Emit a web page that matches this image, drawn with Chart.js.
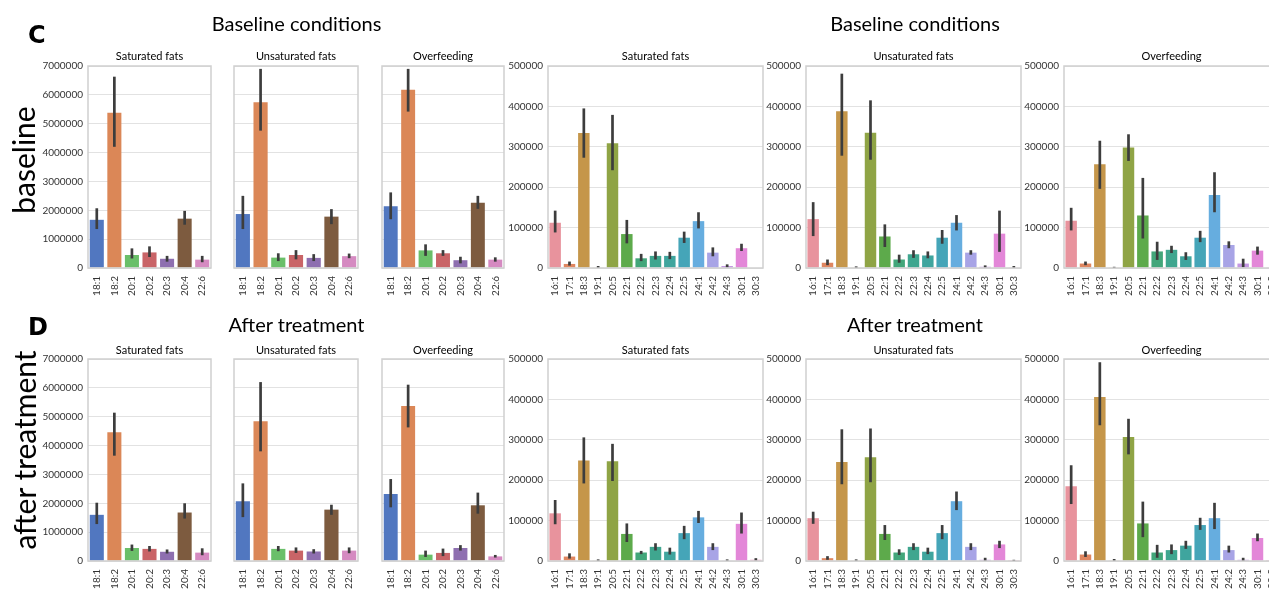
<!DOCTYPE html>
<html>
<head>
<meta charset="utf-8">
<script src="https://cdn.jsdelivr.net/npm/chart.js@4.4.1/dist/chart.umd.min.js"></script>
<style>
  html, body { margin: 0; padding: 0; background: #fff; overflow: hidden; }
  #fig { position: relative; width: 1280px; height: 590px; overflow: hidden; font-family: Lato, sans-serif; }
  .txt { position: absolute; white-space: nowrap; line-height: 1; color: #000; }
  canvas { position: absolute; }
</style>
</head>
<body>
<div id="fig"></div>
<script>
// ---- categories ----
const majorLabels = ['18:1', '18:2', '20:1', '20:2', '20:3', '20:4', '22:6'];
const minorLabels = ['16:1', '17:1', '18:3', '19:1', '20:5', '22:1', '22:2', '22:3', '22:4', '22:5', '24:1', '24:2', '24:3', '30:1', '30:3'];

// ---- y tick settings ----
const majorMax = 7000000, majorStep = 1000000;
const minorMax = 500000, minorStep = 100000;

// ---- baseline, major fatty acids (mean, CI low, CI high) ----
const baseSatMajor     = [1670000, 5380000, 450000, 540000, 320000, 1710000, 290000];
const baseSatMajorLo   = [1350000, 4200000, 330000, 380000, 220000, 1500000, 200000];
const baseSatMajorHi   = [2070000, 6630000, 680000, 750000, 420000, 1980000, 420000];
const baseUnsatMajor   = [1870000, 5740000, 360000, 450000, 350000, 1780000, 410000];
const baseUnsatMajorLo = [1350000, 4760000, 240000, 300000, 240000, 1520000, 340000];
const baseUnsatMajorHi = [2500000, 6900000, 510000, 620000, 480000, 2040000, 500000];
const baseOverMajor    = [2140000, 6180000, 610000, 510000, 270000, 2260000, 290000];
const baseOverMajorLo  = [1690000, 5420000, 420000, 420000, 160000, 2050000, 220000];
const baseOverMajorHi  = [2620000, 6900000, 820000, 620000, 390000, 2500000, 370000];

// ---- after treatment, major fatty acids ----
const postSatMajor     = [1600000, 4460000, 450000, 420000, 320000, 1680000, 290000];
const postSatMajorLo   = [1280000, 3650000, 350000, 330000, 260000, 1470000, 200000];
const postSatMajorHi   = [2020000, 5140000, 570000, 520000, 400000, 2000000, 440000];
const postUnsatMajor   = [2070000, 4840000, 420000, 360000, 330000, 1780000, 360000];
const postUnsatMajorLo = [1520000, 3800000, 340000, 280000, 260000, 1600000, 270000];
const postUnsatMajorHi = [2690000, 6200000, 520000, 470000, 410000, 1950000, 470000];
const postOverMajor    = [2320000, 5370000, 220000, 280000, 450000, 1930000, 160000];
const postOverMajorLo  = [1860000, 4630000, 140000, 170000, 360000, 1640000, 120000];
const postOverMajorHi  = [2840000, 6110000, 360000, 430000, 550000, 2370000, 210000];

// ---- baseline, minor fatty acids ----
const baseSatMinor     = [112000, 10000, 334000, 1000, 309000, 84000, 24000, 30000, 30000, 75000, 116000, 38000, 5000, 49000, 0];
const baseSatMinorLo   = [88000, 6000, 273000, 0, 242000, 61000, 17000, 21000, 22000, 62000, 98000, 29000, 1500, 42000, 0];
const baseSatMinorHi   = [142000, 16000, 395000, 5000, 379000, 119000, 35000, 41000, 40000, 90000, 138000, 51000, 9000, 60000, 0];
const baseUnsatMinor   = [121000, 13000, 388000, 1000, 335000, 78000, 21000, 34000, 31000, 75000, 112000, 38000, 3000, 85000, 1000];
const baseUnsatMinorLo = [79000, 7000, 278000, 0, 268000, 52000, 13000, 25000, 24000, 60000, 93000, 33000, 1000, 40000, 0];
const baseUnsatMinorHi = [163000, 21000, 481000, 4000, 415000, 108000, 33000, 44000, 41000, 94000, 131000, 44000, 6500, 142000, 5000];
const baseOverMinor    = [117000, 11000, 257000, 1000, 298000, 130000, 41000, 45000, 29000, 75000, 181000, 57000, 11000, 43000, 1000];
const baseOverMinorLo  = [93000, 7000, 196000, 0, 265000, 73000, 20000, 37000, 20000, 64000, 138000, 49000, 2000, 33000, 0];
const baseOverMinorHi  = [149000, 16000, 315000, 3000, 331000, 223000, 65000, 55000, 39000, 92000, 237000, 66000, 23000, 53000, 4000];

// ---- after treatment, minor fatty acids ----
const postSatMinor     = [118000, 11000, 249000, 1000, 247000, 67000, 21000, 35000, 23000, 69000, 108000, 35000, 1000, 92000, 3000];
const postSatMinorLo   = [91000, 6000, 192000, 0, 198000, 47000, 17000, 26000, 16000, 54000, 94000, 27000, 0, 68000, 1000];
const postSatMinorHi   = [151000, 19000, 306000, 4000, 290000, 93000, 25000, 44000, 33000, 87000, 124000, 44000, 4000, 120000, 7000];
const postUnsatMinor   = [106000, 7000, 245000, 1000, 257000, 67000, 21000, 35000, 23000, 69000, 148000, 35000, 3000, 41000, 500];
const postUnsatMinorLo = [92000, 3000, 190000, 0, 195000, 52000, 15000, 27000, 17000, 54000, 126000, 27000, 0, 32000, 0];
const postUnsatMinorHi = [122000, 12000, 326000, 4000, 328000, 89000, 29000, 44000, 33000, 89000, 172000, 44000, 8000, 50000, 3000];
const postOverMinor    = [185000, 16000, 406000, 1000, 307000, 93000, 21000, 27000, 38000, 89000, 106000, 27000, 3000, 57000, 2000];
const postOverMinorLo  = [141000, 10000, 336000, 0, 264000, 59000, 8000, 17000, 30000, 77000, 79000, 21000, 0, 49000, 0];
const postOverMinorHi  = [237000, 24000, 492000, 5000, 352000, 147000, 40000, 41000, 50000, 107000, 144000, 38000, 8000, 68000, 5000];

// ---- palettes ----
const majorColors = ['#5177C0', '#DB8757', '#6ABF69', '#C96467', '#8E6FB0', '#7D5B3F', '#D58AC1'];
const minorColors = ['#E8939D', '#DF8660', '#C5964A', '#A89E43', '#8FA445', '#5DAA4B', '#42A67A', '#3FA68F',
                     '#3FA59E', '#45A5B8', '#66ADDF', '#A8A4E6', '#C497E2', '#E387D8', '#E88DB8'];

const fig = document.getElementById('fig');
const FONT = 'Lato, sans-serif';

function addText(str, opts) {
  const d = document.createElement('div');
  d.className = 'txt';
  d.textContent = str;
  d.style.fontSize = opts.size + 'px';
  if (opts.bold) d.style.fontWeight = 'bold';
  if (opts.family) d.style.fontFamily = opts.family;
  if (opts.center !== undefined) {
    d.style.left = (opts.center - 200) + 'px';
    d.style.width = '400px';
    d.style.textAlign = 'center';
  } else {
    d.style.left = opts.left + 'px';
  }
  d.style.top = opts.top + 'px';
  if (opts.rotate) {
    d.style.left = opts.cx + 'px';
    d.style.top = opts.cy + 'px';
    d.style.transform = 'translate(-50%, -50%) rotate(-90deg)';
  }
  fig.appendChild(d);
}

// thin frame around each axes box (all four spines)
const framePlugin = {
  id: 'frame',
  afterDraw(chart) {
    const a = chart.chartArea, ctx = chart.ctx;
    ctx.save();
    ctx.strokeStyle = '#cfcfcf';
    ctx.lineWidth = 1.5;
    ctx.strokeRect(a.left, a.top, a.right - a.left, a.bottom - a.top);
    ctx.restore();
  }
};

// vertical confidence-interval lines centred on each bar
function errorBars(lo, hi) {
  return {
    id: 'errorBars',
    afterDatasetsDraw(chart) {
      const meta = chart.getDatasetMeta(0);
      const ys = chart.scales.y;
      const ctx = chart.ctx;
      ctx.save();
      ctx.strokeStyle = '#3d3d3d';
      ctx.lineWidth = 2.7;
      ctx.lineCap = 'butt';
      meta.data.forEach((bar, i) => {
        const y1 = ys.getPixelForValue(lo[i]);
        const y2 = ys.getPixelForValue(hi[i]);
        if (Math.abs(y1 - y2) < 0.1) return;
        ctx.beginPath();
        ctx.moveTo(bar.x, y1);
        ctx.lineTo(bar.x, y2);
        ctx.stroke();
      });
      ctx.restore();
    }
  };
}

function makePanel(g, s) {
  const padT = 8, padR = 2, xh = 34;
  const w = (g.R - g.L) + g.yw + padR;
  const h = (g.B - g.T) + padT + xh;
  const c = document.createElement('canvas');
  c.width = w; c.height = h;
  c.style.width = w + 'px'; c.style.height = h + 'px';
  c.style.left = (g.L - g.yw) + 'px';
  c.style.top = (g.T - padT) + 'px';
  fig.appendChild(c);

  new Chart(c, {
    type: 'bar',
    data: {
      labels: s.labels,
      datasets: [{
        data: s.mean,
        backgroundColor: s.colors,
        borderWidth: 0,
        barPercentage: 0.8,
        categoryPercentage: 1.0
      }]
    },
    options: {
      responsive: false,
      maintainAspectRatio: false,
      animation: false,
      devicePixelRatio: 1,
      layout: { padding: { top: padT, right: padR, left: 0, bottom: 0 } },
      plugins: { legend: { display: false }, tooltip: { enabled: false }, title: { display: false } },
      scales: {
        x: {
          grid: { display: false, drawTicks: false },
          border: { display: false },
          ticks: {
            autoSkip: false, minRotation: 90, maxRotation: 90, padding: 8,
            color: '#333', font: { family: FONT, size: 10 }
          },
          afterFit: sc => { sc.height = xh; sc.paddingLeft = 0; sc.paddingRight = 0; }
        },
        y: {
          min: 0, max: s.max,
          grid: { color: '#e2e2e2', lineWidth: 1, drawTicks: false },
          border: { display: false },
          ticks: {
            display: g.showY, stepSize: s.step, padding: 5,
            color: '#333', font: { family: FONT, size: 10 },
            callback: v => String(v)
          },
          afterFit: sc => { sc.width = g.yw; sc.paddingTop = 0; sc.paddingBottom = 0; }
        }
      }
    },
    plugins: [errorBars(s.lo, s.hi), framePlugin]
  });

  addText(s.title, { size: 11, center: (g.L + g.R) / 2, top: g.titleTop });
}

// ---- layout of the 2 x 6 grid ----
const rowGeom = [{ T: 66, B: 268, titleTop: 50.3 }, { T: 359, B: 561, titleTop: 343.7 }];
const colGeom = [
  { L: 88,   R: 211,  yw: 50, showY: true },
  { L: 234,  R: 358,  yw: 1,  showY: false },
  { L: 382,  R: 504,  yw: 1,  showY: false },
  { L: 548,  R: 763,  yw: 45, showY: true },
  { L: 806,  R: 1021, yw: 45, showY: true },
  { L: 1064, R: 1279, yw: 45, showY: true }
];
const groupTitles = ['Saturated fats', 'Unsaturated fats', 'Overfeeding'];

const rowsData = [
  [
    [baseSatMajor, baseSatMajorLo, baseSatMajorHi],
    [baseUnsatMajor, baseUnsatMajorLo, baseUnsatMajorHi],
    [baseOverMajor, baseOverMajorLo, baseOverMajorHi],
    [baseSatMinor, baseSatMinorLo, baseSatMinorHi],
    [baseUnsatMinor, baseUnsatMinorLo, baseUnsatMinorHi],
    [baseOverMinor, baseOverMinorLo, baseOverMinorHi]
  ],
  [
    [postSatMajor, postSatMajorLo, postSatMajorHi],
    [postUnsatMajor, postUnsatMajorLo, postUnsatMajorHi],
    [postOverMajor, postOverMajorLo, postOverMajorHi],
    [postSatMinor, postSatMinorLo, postSatMinorHi],
    [postUnsatMinor, postUnsatMinorLo, postUnsatMinorHi],
    [postOverMinor, postOverMinorLo, postOverMinorHi]
  ]
];

rowsData.forEach((row, r) => {
  row.forEach((d, col) => {
    const major = col < 3;
    const g = Object.assign({}, colGeom[col], rowGeom[r]);
    makePanel(g, {
      labels: major ? majorLabels : minorLabels,
      colors: major ? majorColors : minorColors,
      max: major ? majorMax : minorMax,
      step: major ? majorStep : minorStep,
      mean: d[0], lo: d[1], hi: d[2],
      title: groupTitles[col % 3]
    });
  });
});

// ---- figure annotations ----
addText('C', { size: 24, bold: true, family: '"DejaVu Sans", sans-serif', left: 28, top: 23.2 });
addText('D', { size: 24, bold: true, family: '"DejaVu Sans", sans-serif', left: 28, top: 315.2 });
addText('Baseline conditions', { size: 20, center: 296.5, top: 13.3 });
addText('Baseline conditions', { size: 20, center: 915, top: 13.3 });
addText('After treatment', { size: 20, center: 296.5, top: 314.3 });
addText('After treatment', { size: 20, center: 915, top: 314.3 });
addText('baseline', { size: 30, rotate: true, cx: 22.5, cy: 159.5 });
addText('after treatment', { size: 30, rotate: true, cx: 24, cy: 449.5 });
</script>
</body>
</html>
